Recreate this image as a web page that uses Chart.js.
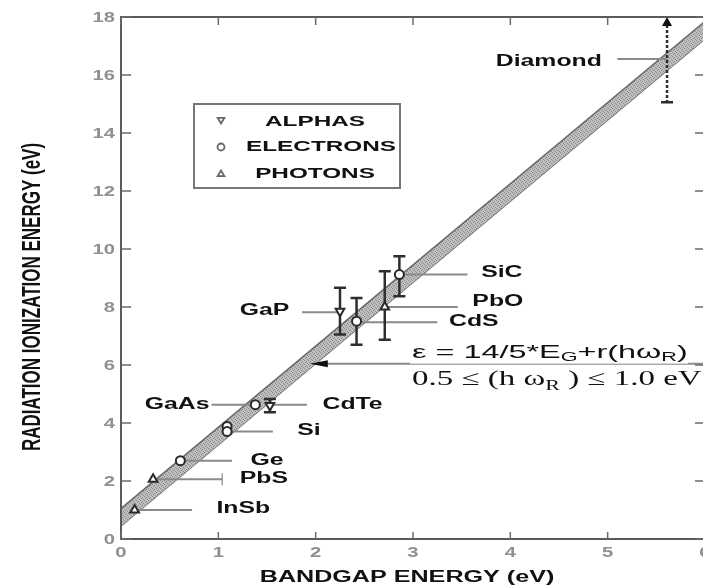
<!DOCTYPE html>
<html><head><meta charset="utf-8">
<script src="https://cdn.jsdelivr.net/npm/chart.js@4.4.1/dist/chart.umd.min.js"></script>
<style>
html,body{margin:0;padding:0;background:#fff;overflow:hidden;width:703px;height:588px}
#wrap{position:absolute;left:0;top:0;width:712px;height:588px}
</style>
</head><body><div id="wrap"><canvas id="c" width="712" height="588"></canvas></div>
<script>
// ---------- data ----------
const categories = ['InSb','PbS','Ge','Si','GaAs','CdTe','GaP','CdS','PbO','SiC','Diamond'];
const alphaX = [1.53, 2.25];
const alphaY = [4.60, 7.85];
const electronX = [0.61, 1.09, 1.09, 1.38, 2.42, 2.86];
const electronY = [2.70, 3.88, 3.71, 4.63, 7.51, 9.12];
const photonX = [0.14, 0.33, 2.71];
const photonY = [1.00, 2.06, 8.00];
const errX = [1.53, 2.25, 2.42, 2.71, 2.86, 5.61];
const errLow = [4.37, 7.05, 6.70, 6.87, 8.37, 15.06];
const errHigh = [4.83, 8.66, 8.31, 9.23, 9.75, 18.0];
const bandX = [0, 6];
const bandLow = [0.45, 17.25];
const bandHigh = [1.05, 17.85];
const labelPointX = [0.14, 0.33, 0.61, 1.09, 1.38, 1.53, 2.25, 2.42, 2.71, 2.86, 5.61];
const labelPointY = [1.00, 2.06, 2.70, 3.71, 4.63, 4.63, 7.82, 7.47, 8.00, 9.12, 16.55];
const labelLineEnd = [0.73, 1.04, 1.14, 1.56, 0.93, 1.91, 1.86, 3.25, 3.46, 3.56, 5.10];
const labelTextX = [0.98, 1.22, 1.33, 1.81, 0.91, 2.07, 1.73, 3.37, 3.61, 3.70, 4.94];
const labelTextY = [1.05, 2.10, 2.72, 3.75, 4.63, 4.63, 7.87, 7.50, 8.20, 9.19, 16.45];
const xTickValues = [0,1,2,3,4,5,6];
const xTickLabels = ['0','1','2','3','4','5','6'];
const yTickValues = [0,2,4,6,8,10,12,14,16,18];
const yTickLabels = ['0','2','4','6','8','10','12','14','16','18'];
const legendLabels = ['ALPHAS','ELECTRONS','PHOTONS'];
const formulaArrowX = [1.94, 6.0];
const formulaArrowY = 6.04;
const formulaX = 2.99;
const formulaY = [6.46, 5.53];
const xTitle = 'BANDGAP ENERGY (eV)';
const yTitle = 'RADIATION IONIZATION ENERGY (eV)';

// ---------- helpers ----------
function pts(xs, ys){ return xs.map((x,i)=>({x:x, y:ys[i]})); }
function stretchText(ctx, text, x, y, font, sx, align, color){
  ctx.save();
  ctx.font = font; ctx.fillStyle = color; ctx.textBaseline = 'middle'; ctx.textAlign = 'left';
  const w = ctx.measureText(text).width * sx;
  const left = align === 'left' ? x : (align === 'right' ? x - w : x - w/2);
  ctx.translate(left, y); ctx.scale(sx, 1); ctx.fillText(text, 0, 0);
  ctx.restore();
}
function runsText(ctx, runs, x, y, sx, color){
  ctx.save();
  ctx.translate(x, y); ctx.scale(sx, 1);
  ctx.fillStyle = color; ctx.textBaseline = 'alphabetic'; ctx.textAlign = 'left';
  let cx = 0;
  runs.forEach(r => { ctx.font = r.f; ctx.fillText(r.t, cx, r.dy || 0); cx += ctx.measureText(r.t).width; });
  ctx.restore();
  return cx * sx;
}
function marker(ctx, style, x, y, r, color, lw){
  ctx.save(); ctx.strokeStyle = color; ctx.lineWidth = lw; ctx.fillStyle = '#fff';
  ctx.beginPath();
  if (style === 'circle') { ctx.arc(x, y, r, 0, Math.PI*2); }
  else {
    const s = style === 'down' ? -1 : 1;
    ctx.moveTo(x, y - s*r); ctx.lineTo(x + r*0.95, y + s*r*0.6); ctx.lineTo(x - r*0.95, y + s*r*0.6); ctx.closePath();
  }
  ctx.fill(); ctx.stroke(); ctx.restore();
}

// band texture
const pc = document.createElement('canvas'); pc.width = 4; pc.height = 4;
const pctx = pc.getContext('2d');
pctx.fillStyle = '#c0c0c0'; pctx.fillRect(0,0,4,4);
pctx.fillStyle = '#8a8a8a'; pctx.fillRect(0,0,1,1); pctx.fillRect(2,1,1,1); pctx.fillRect(1,2,1,1); pctx.fillRect(3,3,1,1);
const bandPattern = pctx.createPattern(pc, 'repeat');

let bandDone = 0;
const overlay = {
  id: 'overlay',
  beforeDatasetsDraw(){ bandDone = 0; },
  afterDatasetDraw(chart, args){
    if (!chart.data.datasets[args.index].isBand) return;
    bandDone++;
    if (bandDone < 2) return;
    const ctx = chart.ctx, xs = chart.scales.x, ys = chart.scales.y;
    const X = v => xs.getPixelForValue(v), Y = v => ys.getPixelForValue(v);
    ctx.save();
    ctx.strokeStyle = '#8a8a8a'; ctx.lineWidth = 2;
    categories.forEach((c,i) => {
      ctx.beginPath(); ctx.moveTo(X(labelPointX[i]), Y(labelPointY[i])); ctx.lineTo(X(labelLineEnd[i]), Y(labelPointY[i])); ctx.stroke();
    });
    const pi = categories.indexOf('PbS');
    ctx.lineWidth = 1.2;
    ctx.beginPath(); ctx.moveTo(X(labelLineEnd[pi]), Y(labelPointY[pi]) - 6); ctx.lineTo(X(labelLineEnd[pi]), Y(labelPointY[pi]) + 6); ctx.stroke();
    ctx.lineWidth = 2;
    const ay = Y(formulaArrowY);
    ctx.beginPath(); ctx.moveTo(X(formulaArrowX[0]) + 10, ay); ctx.lineTo(X(formulaArrowX[1]), ay); ctx.stroke();
    ctx.fillStyle = '#111';
    ctx.beginPath(); ctx.moveTo(X(formulaArrowX[0]), ay); ctx.lineTo(X(formulaArrowX[0]) + 18, ay - 3.5); ctx.lineTo(X(formulaArrowX[0]) + 18, ay + 3.5); ctx.closePath(); ctx.fill();
    ctx.strokeStyle = '#2e2e2e'; ctx.lineWidth = 2.5;
    errX.forEach((x,i) => {
      const px = X(x), top = Y(errHigh[i]), bot = Y(errLow[i]);
      const isDiamond = i === errX.length - 1;
      ctx.setLineDash(isDiamond ? [3,2] : []);
      ctx.beginPath(); ctx.moveTo(px, isDiamond ? top + 8 : top); ctx.lineTo(px, bot); ctx.stroke();
      ctx.setLineDash([]);
      ctx.beginPath(); ctx.moveTo(px - 6, bot); ctx.lineTo(px + 6, bot);
      if (!isDiamond) { ctx.moveTo(px - 6, top); ctx.lineTo(px + 6, top); }
      ctx.stroke();
      if (isDiamond) {
        ctx.fillStyle = '#111';
        ctx.beginPath(); ctx.moveTo(px, top); ctx.lineTo(px + 5, top + 9); ctx.lineTo(px - 5, top + 9); ctx.closePath(); ctx.fill();
      }
    });
    ctx.restore();
  },
  afterDraw(chart){
    const ctx = chart.ctx, xs = chart.scales.x, ys = chart.scales.y, a = chart.chartArea;
    const X = v => xs.getPixelForValue(v), Y = v => ys.getPixelForValue(v);
    ctx.save();
    ctx.strokeStyle = '#5a5a5a'; ctx.lineWidth = 2;
    ctx.strokeRect(a.left, a.top, a.right - a.left, a.bottom - a.top);
    ctx.lineWidth = 1.5; ctx.strokeStyle = '#6a6a6a';
    yTickValues.forEach(v => {
      const py = Y(v);
      ctx.beginPath(); ctx.moveTo(a.left, py); ctx.lineTo(a.left + 10, py); ctx.stroke();
      ctx.beginPath(); ctx.moveTo(a.right, py); ctx.lineTo(a.right - 10, py); ctx.stroke();
    });
    xTickValues.forEach(v => {
      const px = X(v);
      ctx.beginPath(); ctx.moveTo(px, a.bottom); ctx.lineTo(px, a.bottom - 7); ctx.stroke();
      ctx.beginPath(); ctx.moveTo(px, a.top); ctx.lineTo(px, a.top + 8); ctx.stroke();
    });
    ctx.restore();
    yTickValues.forEach((v,i) => stretchText(ctx, yTickLabels[i], a.left - 6, Y(v) + 1, 'bold 15px "Liberation Sans"', 1.35, 'right', '#909090'));
    xTickValues.forEach((v,i) => stretchText(ctx, xTickLabels[i], X(v), a.bottom + 14, 'bold 15px "Liberation Sans"', 1.35, 'center', '#909090'));
    stretchText(ctx, xTitle, (a.left + a.right)/2 - 6, 578, 'bold 16px "Liberation Sans"', 1.57, 'center', '#111');
    ctx.save();
    ctx.translate(33, 297); ctx.rotate(-Math.PI/2); ctx.scale(1, 1.5);
    ctx.font = 'bold 17px "Liberation Sans"'; ctx.fillStyle = '#111'; ctx.textAlign = 'center'; ctx.textBaseline = 'middle';
    ctx.fillText(yTitle, 0, 0);
    ctx.restore();
    categories.forEach((c,i) => {
      const align = labelTextX[i] < labelPointX[i] ? 'right' : 'left';
      stretchText(ctx, c, X(labelTextX[i]), Y(labelTextY[i]), 'bold 16px "Liberation Sans"', 1.55, align, '#111');
    });
    const fx = X(formulaX);
    const y1 = Y(formulaY[0]) + 6, y2 = Y(formulaY[1]) + 6;
    ctx.save(); ctx.fillStyle = '#fff'; ctx.fillRect(fx - 2, y1 - 16, 278, 22); ctx.restore();
    runsText(ctx, [
      {t:'\u03B5 = 14/5*E', f:'18px "Liberation Sans"'},
      {t:'G', f:'12px "Liberation Sans"', dy:3},
      {t:'+r(h\u03C9', f:'18px "Liberation Sans"'},
      {t:'R', f:'12px "Liberation Sans"', dy:3},
      {t:')', f:'18px "Liberation Sans"'}
    ], fx, y1, 1.8, '#111');
    runsText(ctx, [
      {t:'0.5 \u2264 (h \u03C9', f:'21px "Liberation Serif"'},
      {t:'R', f:'14px "Liberation Serif"', dy:5},
      {t:' ) \u2264 1.0 eV', f:'21px "Liberation Serif"'}
    ], fx, y2, 1.57, '#111');
    ctx.save();
    ctx.strokeStyle = '#777'; ctx.lineWidth = 2;
    ctx.strokeRect(194, 104, 206, 84);
    ctx.restore();
    const legY = [121, 146, 173];
    const legCx = [315, 321, 315];
    const legStyle = ['down','circle','up'];
    legendLabels.forEach((t,i) => {
      marker(ctx, legStyle[i], 221, legY[i] + (i===0? -1 : 1), 3.5, '#666', 1.8);
      stretchText(ctx, t, legCx[i], legY[i] + 1, 'bold 15px "Liberation Sans"', 1.62, 'center', '#111');
    });
  }
};

const markerCommon = { showLine:false, pointRadius:5, pointBorderWidth:2, pointBorderColor:'#2a2a2a', pointBackgroundColor:'#ffffff', order:0, clip:false };
new Chart(document.getElementById('c'), {
  type: 'scatter',
  data: { datasets: [
    Object.assign({ label:'ALPHAS', data: pts(alphaX, alphaY), pointStyle:'triangle', rotation:180 }, markerCommon),
    Object.assign({ label:'ELECTRONS', data: pts(electronX, electronY), pointStyle:'circle' }, markerCommon, {pointRadius:4.5}),
    Object.assign({ label:'PHOTONS', data: pts(photonX, photonY), pointStyle:'triangle' }, markerCommon),
    { type:'line', label:'bandLow', isBand:true, data: pts(bandX, bandLow), borderColor:'#6a6a6a', borderWidth:1.5, pointRadius:0, fill:false, order:11 },
    { type:'line', label:'bandHigh', isBand:true, data: pts(bandX, bandHigh), borderColor:'#6a6a6a', borderWidth:1.5, pointRadius:0, fill:'-1', backgroundColor: bandPattern, order:10 }
  ]},
  options: {
    responsive:false, animation:false, devicePixelRatio:1,
    layout:{ padding:{ left:121, top:17, right:6, bottom:49 } },
    plugins:{ legend:{display:false}, tooltip:{enabled:false} },
    scales:{
      x:{ type:'linear', min:0, max:6, display:false },
      y:{ type:'linear', min:0, max:18, display:false }
    }
  },
  plugins:[overlay]
});
</script>
</body></html>
